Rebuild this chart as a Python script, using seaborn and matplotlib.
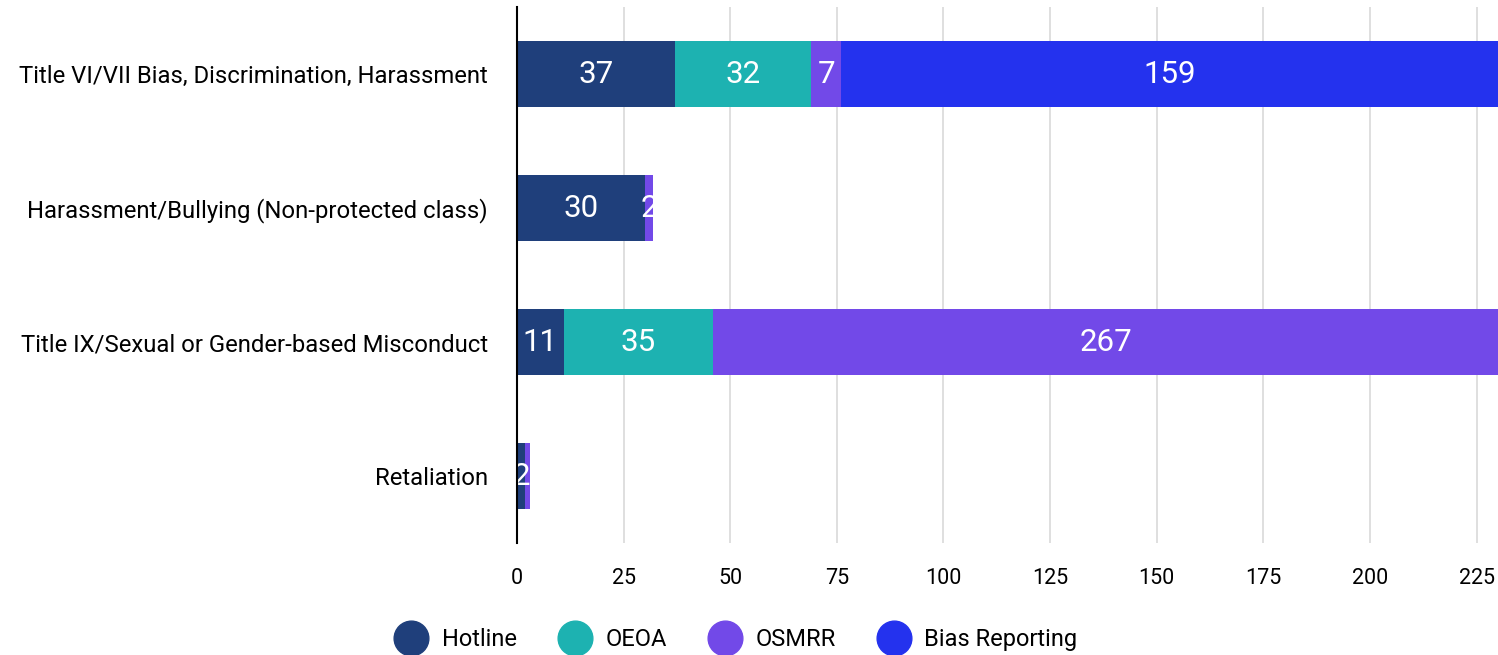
import numpy as np
import pandas as pd
import seaborn as sns
import matplotlib.pyplot as plt
from matplotlib.lines import Line2D

# valores
categorias = [
    "Title VI/VII Bias, Discrimination, Harassment",
    "Harassment/Bullying (Non-protected class)",
    "Title IX/Sexual or Gender-based Misconduct",
    "Retaliation",
]
series = ["Hotline", "OEOA", "OSMRR", "Bias Reporting"]
hotline = [37, 30, 11, 2]
oeoa = [32, 0, 35, 0]
osmrr = [7, 2, 267, 1]
bias_reporting = [159, 0, 0, 0]
cores = ["#1f3f7b", "#1db2b1", "#7249e8", "#2432ee"]
ticks_x = [0, 25, 50, 75, 100, 125, 150, 175, 200, 225]

sns.set_theme(style="white")
plt.rcParams["font.family"] = ["Roboto", "DejaVu Sans"]
plt.rcParams["text.color"] = "black"
plt.rcParams["xtick.color"] = "black"
plt.rcParams["ytick.color"] = "black"

df = pd.DataFrame(
    {"categoria": categorias, "Hotline": hotline, "OEOA": oeoa,
     "OSMRR": osmrr, "Bias Reporting": bias_reporting}
)
acumulado = df[series].cumsum(axis=1)

fig = plt.figure(figsize=(14.98, 6.55), dpi=100)
ax = fig.add_axes([0.3451, 0.171, 0.6549, 0.818])

# barras empilhadas: desenha do total para o primeiro segmento
for serie, cor in reversed(list(zip(series, cores))):
    sns.barplot(
        x=acumulado[serie], y=df["categoria"], color=cor,
        orient="h", width=0.49, ax=ax, zorder=3, saturation=1,
        linewidth=0,
    )

xmax = 230
ax.set_xlim(0, xmax)

# rótulos dos segmentos (centrados na parte visível)
for i in range(len(categorias)):
    inicio = 0
    for serie in series:
        valor = df.loc[i, serie]
        fim = inicio + valor
        if valor >= 2:
            centro = (inicio + min(fim, xmax)) / 2
            ax.text(centro, i, str(valor), ha="center", va="center",
                    color="white", fontsize=22.5, zorder=5)
        inicio = fim

ax.set_xticks(ticks_x)
ax.set_xticklabels([str(t) for t in ticks_x], fontsize=15.5)
ax.tick_params(axis="y", labelsize=17.2, length=0, pad=21)
ax.tick_params(axis="x", length=0, pad=18)
ax.xaxis.grid(True, color="#d9d9d9", linewidth=1.2, zorder=0)
ax.set_axisbelow(True)
for lado in ["top", "right", "bottom"]:
    ax.spines[lado].set_visible(False)
ax.spines["left"].set_color("black")
ax.spines["left"].set_linewidth(1.5)
ax.spines["left"].set_zorder(6)
ax.set_xlabel("")
ax.set_ylabel("")

handles = [
    Line2D([0], [0], marker="o", linestyle="", markersize=25,
           markerfacecolor=c, markeredgecolor=c)
    for c in cores
]
fig.legend(handles, series, loc="center", bbox_to_anchor=(0.489, 0.024),
           ncol=4, frameon=False, fontsize=17, handletextpad=0.3,
           columnspacing=1.45)

fig.savefig("out.png", dpi=100)
